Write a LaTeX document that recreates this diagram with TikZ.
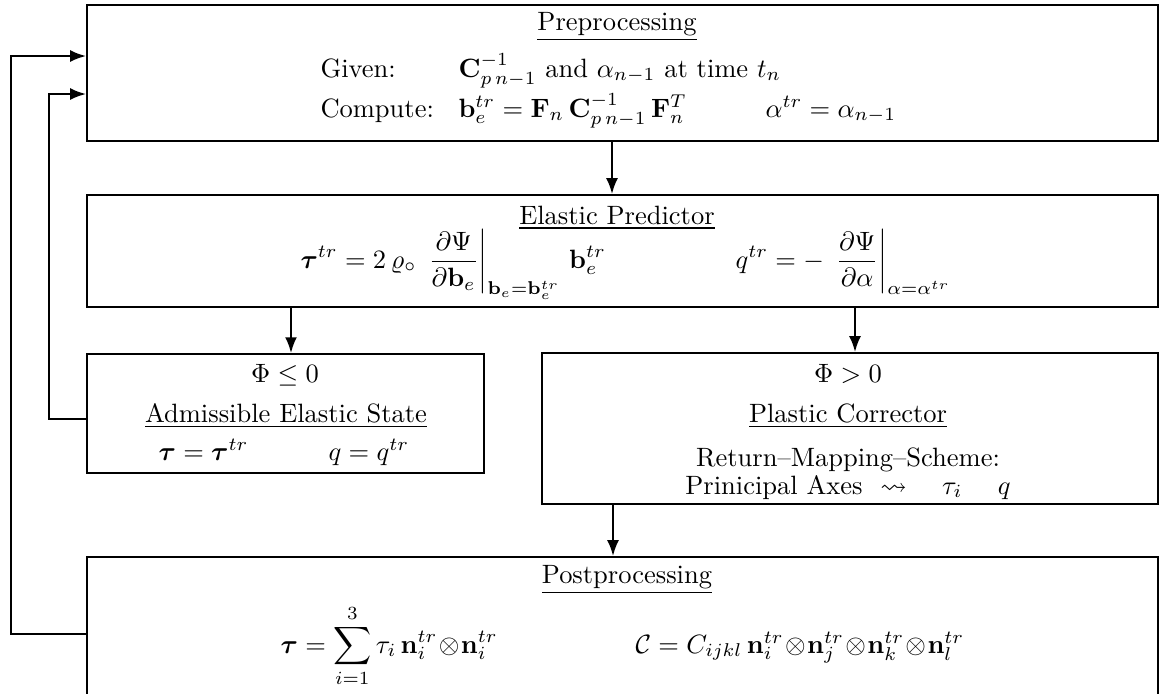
\documentclass[tikz,border=0pt]{standalone}
\usepackage{amsmath,amssymb,bm}
\usetikzlibrary{arrows.meta}

\begin{document}
\begin{tikzpicture}[>={Latex[length=6pt,width=4.5pt]},x=0.3774pt,y=-0.3774pt]
  \tikzstyle{block}=[draw,line width=0.65pt,inner sep=0pt]
  \tikzstyle{link}=[line width=0.85pt,->]
  \tikzstyle{txt}=[anchor=base,inner sep=0pt]
  \tikzstyle{txtl}=[anchor=base west,inner sep=0pt]
  \useasboundingbox (0,0) rectangle (1160,693);

  % boxes
  \node[block,minimum width=404.2pt,minimum height=51.3pt] (pre) at (622.5,73) {};
  \node[block,minimum width=404.2pt,minimum height=42.3pt] (ela) at (622.5,251) {};
  \node[block,minimum width=149.8pt,minimum height=44.9pt] (adm) at (285.5,413.5) {};
  \node[block,minimum width=232.5pt,minimum height=57.0pt] (pla) at (850,428.5) {};
  \node[block,minimum width=404.2pt,minimum height=65.3pt] (post) at (622.5,643.5) {};

  % preprocessing
  \node[txt] (pretitle) at (617,30) {\underline{Preprocessing}};
  \node[txtl] (given) at (320,77) {Given:};
  \node[txtl] (givenm) at (458,77) {$\mathbf{C}_{p\,n-1}^{-1}$ and $\alpha_{n-1}$ at time $t_n$};
  \node[txtl] (comp) at (320,117) {Compute:};
  \node[txtl] (compb) at (458,117) {$\mathbf{b}_e^{tr}=\mathbf{F}_n\,\mathbf{C}_{p\,n-1}^{-1}\,\mathbf{F}_n^T$};
  \node[txtl] (compa) at (765,117) {$\alpha^{tr}=\alpha_{n-1}$};

  % elastic predictor
  \node[txt] (elatitle) at (617,224) {\underline{Elastic Predictor}};
  \node[txtl] (elatau) at (300,268) {$\displaystyle\bm{\tau}^{tr}=2\,\varrho_{\circ}\,
    \left.\frac{\partial\Psi}{\partial\mathbf{b}_e}\right|_{\mathbf{b}_e=\mathbf{b}_e^{tr}}\,\mathbf{b}_e^{tr}$};
  \node[txtl] (elaq) at (735,268) {$\displaystyle q^{tr}=-\,
    \left.\frac{\partial\Psi}{\partial\alpha}\right|_{\alpha=\alpha^{tr}}$};

  % admissible elastic state
  \node[txt] (admphi) at (285,382) {$\Phi\leq0$};
  \node[txt] (admtitle) at (286,422) {\underline{Admissible Elastic State}};
  \node[txtl] (admtau) at (158,460) {$\bm{\tau}=\bm{\tau}^{tr}$};
  \node[txtl] (admq) at (328,460) {$q=q^{tr}$};

  % plastic corrector
  \node[txt] (plaphi) at (848,382) {$\Phi>0$};
  \node[txt] (platitle) at (848,422) {\underline{Plastic Corrector}};
  \node[txt] (plaret) at (848,466) {Return--Mapping--Scheme:};
  \node[txt] (plaax) at (848,494) {Prinicipal Axes \ $\leadsto$ \quad $\tau_i$ \quad $q$};

  % postprocessing
  \node[txt] (posttitle) at (627,583) {\underline{Postprocessing}};
  \node[txtl] (posttau) at (280,653) {$\displaystyle\bm{\tau}=\sum_{i=1}^{3}\tau_i\,
    \mathbf{n}_i^{tr}\!\otimes\!\mathbf{n}_i^{tr}$};
  \node[txtl] (postc) at (635,653) {$\mathcal{C}=C_{ijkl}\,\mathbf{n}_i^{tr}\!\otimes\!\mathbf{n}_j^{tr}
    \!\otimes\!\mathbf{n}_k^{tr}\!\otimes\!\mathbf{n}_l^{tr}$};

  % connectors
  \coordinate (xa) at (612,0);
  \coordinate (xb) at (291,0);
  \coordinate (xc) at (855,0);
  \coordinate (xd) at (613,0);
  \coordinate (oa) at (0,634);
  \coordinate (ob) at (11,56);
  \coordinate (ia) at (0,419);
  \coordinate (ib) at (49,94);
  \draw[link] (pre.south -| xa) -- (ela.north -| xa);
  \draw[link] (ela.south -| xb) -- (adm.north -| xb);
  \draw[link] (ela.south -| xc) -- (pla.north -| xc);
  \draw[link] (pla.south -| xd) -- (post.north -| xd);
  \draw[link] (post.west |- oa) -| (ob) -- (pre.west |- ob);
  \draw[link] (adm.west |- ia) -| (ib) -- (pre.west |- ib);
\end{tikzpicture}
\end{document}
